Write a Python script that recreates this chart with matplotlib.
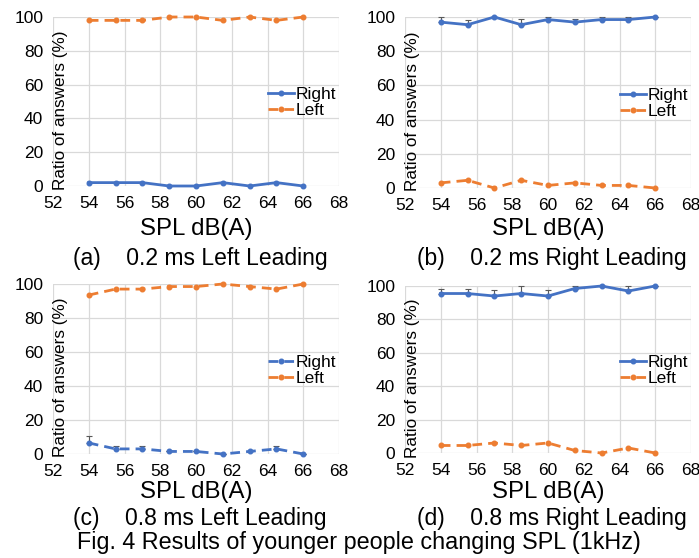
import numpy as np
import matplotlib
matplotlib.use("Agg")
import matplotlib.pyplot as plt

plt.rcParams['font.family'] = ['Liberation Sans', 'DejaVu Sans']

spl = [54, 55.5, 57, 58.5, 60, 61.5, 63, 64.5, 66]

# (a) 0.2 ms left leading
a_right = [2, 2, 2, 0, 0, 2, 0, 2, 0]
a_left = [98, 98, 98, 100, 100, 98, 100, 98, 100]
# (b) 0.2 ms right leading
b_right = [97, 95.5, 100, 95.5, 98.5, 97, 98.5, 98.5, 100]
b_right_err = [3, 2.5, 0, 3.5, 1.5, 2, 1.5, 1.5, 0]
b_left = [3, 4.5, 0, 4.5, 1.5, 3, 1.5, 1.5, 0]
# (c) 0.8 ms left leading
c_right = [6.5, 3, 3, 1.5, 1.5, 0, 1.5, 3, 0]
c_right_err = [4, 2, 2, 0.5, 0.5, 0, 0.5, 2, 0]
c_left = [93.5, 97, 97, 98.5, 98.5, 100, 98.5, 97, 100]
# (d) 0.8 ms right leading
d_right = [95.5, 95.5, 94, 95.5, 94, 98.5, 100, 97, 100]
d_right_err = [2.5, 3, 3.5, 4.5, 3.5, 1.5, 0, 3, 0]
d_left = [4.5, 4.5, 6, 4.5, 6, 1.5, 0, 3, 0]

captions = ["(a)    0.2 ms Left Leading", "(b)    0.2 ms Right Leading",
            "(c)    0.8 ms Left Leading", "(d)    0.8 ms Right Leading"]

BLUE = '#4472C4'
ORANGE = '#ED7D31'
W, H = 699, 558

fig = plt.figure(figsize=(W / 100, H / 100), dpi=100)


def px_axes(l, t, r, b):
    return fig.add_axes([l / W, 1 - b / H, (r - l) / W, (b - t) / H])


def style(ax):
    ax.set_xlim(52, 68)
    ax.set_ylim(0, 100)
    ax.set_xticks(range(52, 69, 2))
    ax.set_yticks(range(0, 101, 20))
    ax.grid(True, color='#D9D9D9', lw=0.9)
    ax.set_axisbelow(True)
    for s in ax.spines.values():
        s.set_visible(False)
    ax.tick_params(length=0, labelsize=12.5, pad=7)
    ax.text(0.027, 0.45, "Ratio of answers (%)", rotation=90, transform=ax.transAxes,
            ha='center', va='center', fontsize=12.3)


def series(ax, y, color, dashed, label, err=None):
    ls = (0, (3.5, 2.2)) if dashed else '-'
    if err is not None:
        ax.errorbar(spl, y, yerr=[np.zeros(len(err)), err], fmt='none',
                    ecolor='#595959', elinewidth=0.8, capsize=2, capthick=0.8,
                    clip_on=False, zorder=2)
    ax.plot(spl, y, color=color, ls=ls, lw=2, marker='o', ms=3.3,
            label=label, clip_on=False, zorder=3)


axes = [px_axes(53, 17, 339, 186), px_axes(405, 17, 691, 188),
        px_axes(53, 284, 339, 454), px_axes(405, 286, 691, 453)]

series(axes[0], a_right, BLUE, False, 'Right')
series(axes[0], a_left, ORANGE, True, 'Left')
series(axes[1], b_right, BLUE, False, 'Right', b_right_err)
series(axes[1], b_left, ORANGE, True, 'Left')
series(axes[2], c_right, BLUE, True, 'Right', c_right_err)
series(axes[2], c_left, ORANGE, True, 'Left')
series(axes[3], d_right, BLUE, False, 'Right', d_right_err)
series(axes[3], d_left, ORANGE, True, 'Left')

for ax in axes:
    style(ax)
    ax.legend(loc='upper left', bbox_to_anchor=(0.752, 0.585), frameon=False,
              fontsize=12.5, borderpad=0, borderaxespad=0, handlelength=1.5,
              handletextpad=0.1, labelspacing=0.05)

# x labels and captions
for i, ax in enumerate(axes):
    cx = (53 + 339) / 2 if i % 2 == 0 else (405 + 691) / 2
    ly = 229 if i < 2 else 492
    cy = 259 if i < 2 else 518
    fig.text(cx / W, 1 - ly / H, "SPL dB(A)", ha='center', va='center', fontsize=17.3)
    fig.text((cx + 4) / W, 1 - cy / H, captions[i], ha='center', va='center', fontsize=16.5)

fig.text(359 / W, 1 - 543 / H, "Fig. 4 Results of younger people changing SPL (1kHz)",
         ha='center', va='center', fontsize=16.8)

fig.savefig("out.png", dpi=100)
